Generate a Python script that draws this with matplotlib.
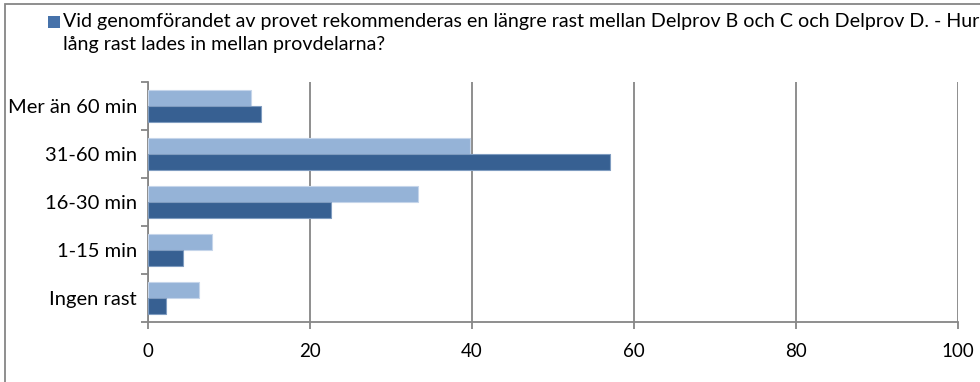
import matplotlib.pyplot as plt
import numpy as np
from matplotlib.patches import Rectangle

plt.rcParams['font.family'] = ['Lato', 'DejaVu Sans']

categories = ["Ingen rast", "1-15 min", "16-30 min", "31-60 min", "Mer än 60 min"]
light_vals = [6.3, 7.9, 33.3, 39.7, 12.7]
dark_vals = [2.2, 4.3, 22.6, 57.0, 14.0]
legend_text = ("Vid genomförandet av provet rekommenderas en längre rast mellan Delprov B och C och Delprov D. - Hur\n"
               "lång rast lades in mellan provdelarna?")

light_col = "#95b3d7"
dark_col = "#376092"
grid_col = "#868686"

fig = plt.figure(figsize=(9.8, 3.82), dpi=100)
ax = fig.add_axes([148 / 980, 60 / 382, 810 / 980, 240 / 382])

y = np.arange(len(categories))
h = 1 / 3
ax.barh(y + h / 2, light_vals, height=h, color=light_col, edgecolor="#c5d5ea", linewidth=0.8, zorder=3)
ax.barh(y - h / 2, dark_vals, height=h, color=dark_col, edgecolor="#7f9cc0", linewidth=0.8, zorder=3)

ax.set_xlim(0, 100)
ax.set_ylim(-0.5, len(categories) - 0.5)
ax.set_xticks([0, 20, 40, 60, 80, 100])
ax.set_yticks(y)
ax.set_yticklabels(categories, fontsize=14.5)
ax.set_yticks(np.arange(-0.5, len(categories), 1), minor=True)
ax.tick_params(axis="y", which="major", length=0, pad=8)
ax.tick_params(axis="y", which="minor", length=5, width=1.3, color=grid_col)
ax.tick_params(axis="x", length=5, width=1.3, color=grid_col, labelsize=13.5, pad=10)
ax.xaxis.grid(True, color=grid_col, linewidth=1.3, zorder=0)
ax.set_axisbelow(True)
for side in ["top", "right"]:
    ax.spines[side].set_visible(False)
for side in ["left", "bottom"]:
    ax.spines[side].set_color(grid_col)
    ax.spines[side].set_linewidth(1.3)

# legend entry: square marker and long question text
fig.patches.append(Rectangle((48 / 980, 1 - 28 / 382), 12 / 980, 12 / 382, transform=fig.transFigure,
                             facecolor="#4672aa", edgecolor="none"))
fig.text(63 / 980, 1 - 13 / 382, legend_text, fontsize=14.1, va="top", ha="left", linespacing=1.4)

# outer chart frame
fig.patches.append(Rectangle((5 / 980, -0.1), 1.2, 1 - 4 / 382 + 0.1, transform=fig.transFigure,
                             facecolor="none", edgecolor=grid_col, linewidth=1.3))

fig.savefig("out.png", dpi=100)
